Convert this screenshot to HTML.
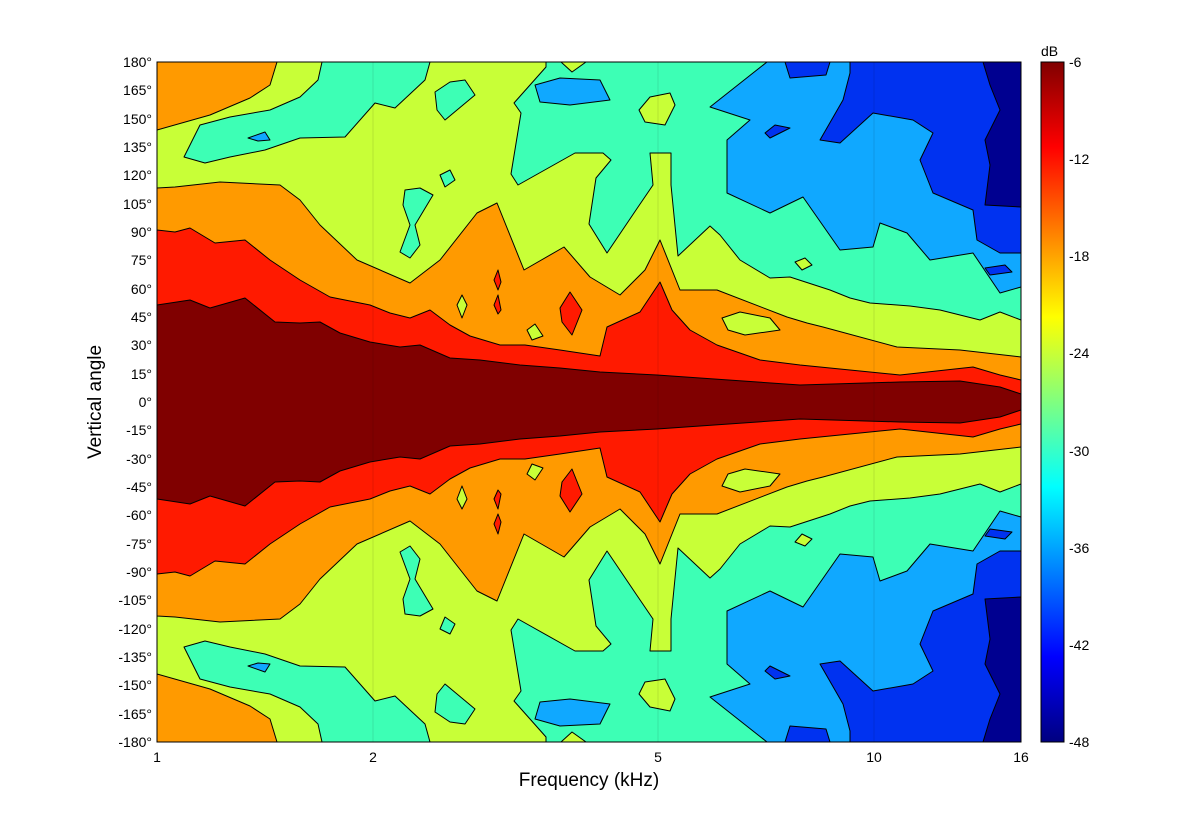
<!DOCTYPE html>
<html><head><style>
body{margin:0;background:#fff;}
svg{display:block;font-family:"Liberation Sans",sans-serif;}
</style></head><body>
<svg width="1201" height="835" viewBox="0 0 1201 835">
<defs>
<linearGradient id="jet" x1="0" y1="1" x2="0" y2="0">
<stop offset="0" stop-color="#000080"/>
<stop offset="0.125" stop-color="#0000ff"/>
<stop offset="0.375" stop-color="#00ffff"/>
<stop offset="0.625" stop-color="#ffff00"/>
<stop offset="0.875" stop-color="#ff0000"/>
<stop offset="1" stop-color="#800000"/>
</linearGradient>
<clipPath id="pc"><rect x="157" y="62" width="864" height="680"/></clipPath>
<g id="half" stroke="#000" stroke-width="1" stroke-linejoin="round">
<!-- cyan main -->
<polygon fill="#3dffb5" points="546,62 561,62 572,72 586,62 1021,62 1021,320 1000,312 980,320 940,310 910,306 870,303 850,298 830,290 790,277 770,278 740,260 720,235 710,226 678,256 671,185 671,153 650,153 653,185 636,210 607,253 589,224 596,178 611,160 603,153 575,153 518,185 511,174 521,113 514,103 546,67"/>
<polygon fill="#c8ff37" points="639,110 650,97 670,93 675,105 665,125 645,122"/>
<polygon fill="#c8ff37" points="795,262 805,258 812,265 802,270"/>
<!-- cyan left -->
<polygon fill="#3dffb5" points="184,157 200,125 230,117 270,110 300,97 318,80 322,62 430,62 425,80 395,108 375,103 345,137 300,138 265,150 230,157 205,163"/>
<polygon fill="#10a8ff" points="248,138 265,132 270,140 258,141"/>
<polygon fill="#3dffb5" points="435,92 450,82 465,80 475,95 445,120 437,110"/>
<polygon fill="#3dffb5" points="440,175 450,170 455,180 445,187"/>
<polygon fill="#3dffb5" points="405,190 420,188 433,195 415,225 420,245 410,258 400,252 410,225 403,205"/>
<!-- sky blue -->
<polygon fill="#10a8ff" points="767,62 1021,62 1021,287 1000,293 973,253 930,260 907,233 880,223 873,247 840,250 803,197 770,213 727,193 727,140 750,120 710,107 753,73"/>
<polygon fill="#10a8ff" points="535,85 560,78 600,80 610,100 570,105 540,102"/>
<!-- blue -->
<polygon fill="#0032f0" points="850,62 1021,62 1021,253 1000,253 977,240 973,210 933,193 920,160 933,133 913,120 873,113 840,143 820,140 843,100 850,73"/>
<polygon fill="#0032f0" points="785,62 830,62 826,75 790,78"/>
<polygon fill="#0032f0" points="765,133 775,125 790,128 770,138"/>
<polygon fill="#0032f0" points="985,268 1005,265 1012,272 990,275"/>
<polygon fill="#000090" points="983,62 1021,62 1021,207 985,205 990,165 985,140 1000,110 990,85"/>
<!-- orange top-left -->
<polygon fill="#ff9a00" points="157,62 277,62 270,85 250,98 210,115 157,130"/>
<!-- orange band -->
<polygon fill="#ff9a00" points="157,188 175,187 220,182 280,185 300,200 320,225 357,260 410,283 440,260 477,213 497,203 524,270 564,247 590,277 620,295 645,270 660,240 680,290 717,290 787,317 807,323 823,327 897,347 960,350 1021,357 1021,402 157,402"/>
<polygon fill="#c8ff37" points="722,318 740,312 770,318 780,330 745,335 728,330"/>
<polygon fill="#c8ff37" points="457,305 462,295 467,305 462,318"/>
<polygon fill="#c8ff37" points="527,330 535,324 543,336 532,340"/>
<polygon fill="#ff1a00" points="494,280 498,270 501,282 498,290"/>
<polygon fill="#ff1a00" points="494,305 498,295 501,310 498,314"/>
<polygon fill="#ff1a00" points="560,308 570,292 582,310 572,335 562,322"/>
<!-- red band -->
<polygon fill="#ff1a00" points="157,230 175,232 190,228 215,243 245,240 270,260 300,280 330,297 370,305 390,313 410,318 430,310 450,325 470,336 500,345 525,345 560,350 600,356 607,327 640,312 660,282 672,310 690,330 717,345 760,360 800,365 850,370 900,375 973,367 1000,375 1021,380 1021,402 157,402"/>
<!-- dark red -->
<polygon fill="#800000" points="157,305 190,300 210,308 245,298 275,322 300,323 320,322 340,333 370,342 400,347 420,345 450,358 480,360 520,365 560,368 600,372 657,375 700,378 800,385 900,382 960,381 1000,387 1021,394 1021,402 157,402"/>
</g>
</defs>
<rect x="157" y="62" width="864" height="680" fill="#c8ff37"/>
<g clip-path="url(#pc)">
<use href="#half"/>
<use href="#half" transform="translate(0,804) scale(1,-1)"/>
<rect x="157" y="398" width="864" height="8" fill="#800000"/>
</g>
<g stroke="#000" stroke-opacity="0.1" stroke-width="1">
<line x1="373" y1="62" x2="373" y2="742"/><line x1="658" y1="62" x2="658" y2="742"/><line x1="874" y1="62" x2="874" y2="742"/>
</g>
<rect x="157" y="62" width="864" height="680" fill="none" stroke="#000" stroke-width="1"/>
<g font-size="14" fill="#000" text-anchor="end">
<text x="152" y="67">180°</text><text x="152" y="95">165°</text><text x="152" y="124">150°</text><text x="152" y="152">135°</text><text x="152" y="180">120°</text><text x="152" y="209">105°</text><text x="152" y="237">90°</text><text x="152" y="265">75°</text><text x="152" y="294">60°</text><text x="152" y="322">45°</text><text x="152" y="350">30°</text><text x="152" y="379">15°</text><text x="152" y="407">0°</text><text x="152" y="435">-15°</text><text x="152" y="464">-30°</text><text x="152" y="492">-45°</text><text x="152" y="520">-60°</text><text x="152" y="549">-75°</text><text x="152" y="577">-90°</text><text x="152" y="605">-105°</text><text x="152" y="634">-120°</text><text x="152" y="662">-135°</text><text x="152" y="690">-150°</text><text x="152" y="719">-165°</text><text x="152" y="747">-180°</text>
</g>
<g font-size="14" fill="#000" text-anchor="middle">
<text x="157" y="762">1</text><text x="373" y="762">2</text><text x="658" y="762">5</text><text x="874" y="762">10</text><text x="1021" y="762">16</text>
</g>
<text x="589" y="786" font-size="19" text-anchor="middle">Frequency (kHz)</text>
<text transform="translate(101,402) rotate(-90)" font-size="19" text-anchor="middle">Vertical angle</text>
<rect x="1041" y="62" width="23" height="680" fill="url(#jet)" stroke="#000" stroke-width="1"/>
<g font-size="14" fill="#000">
<text x="1041" y="56">dB</text>
<text x="1069" y="67">-6</text><text x="1069" y="164">-12</text><text x="1069" y="261">-18</text><text x="1069" y="358">-24</text><text x="1069" y="456">-30</text><text x="1069" y="553">-36</text><text x="1069" y="650">-42</text><text x="1069" y="747">-48</text>
</g>
</svg>
</body></html>
